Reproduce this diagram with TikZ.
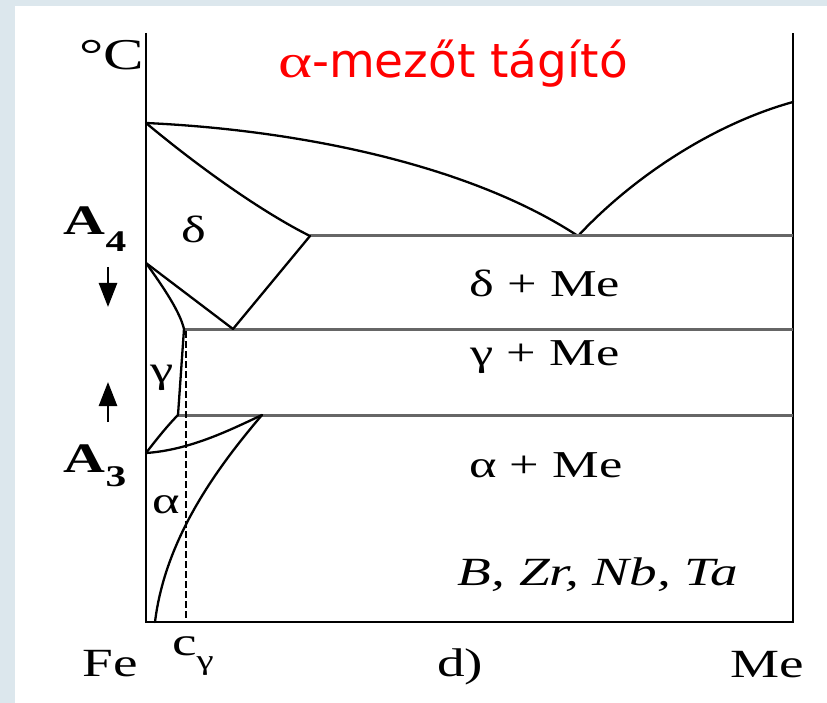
\documentclass[tikz,border=0pt]{standalone}
\usepackage{fontspec}
\setmainfont[FakeStretch=1.38]{Liberation Serif}
\newfontfamily\titlefont{DejaVu Sans}
\usetikzlibrary{positioning,arrows.meta}
\definecolor{slideblue}{HTML}{DCE7ED}
\definecolor{titlered}{HTML}{FF0000}
\tikzset{
  curve/.style={line width=2.3pt, line cap=round},
  iso/.style={line width=3pt, draw=black!60},
  axis/.style={line width=2.6pt},
  phase/.style={font=\fontsize{38}{40}\selectfont, inner sep=0pt, anchor=base},
  axlabel/.style={font=\fontsize{40}{42}\selectfont, inner sep=0pt, anchor=base},
  crit/.style={font=\fontsize{42}{44}\selectfont\bfseries, inner sep=0pt, anchor=base},
  shiftarrow/.style={-{Triangle[length=24pt,width=18pt]}, line width=2.6pt},
}

\begin{document}
\begin{tikzpicture}[x=1pt, y=-1pt]
\useasboundingbox (0,0) rectangle (827,703);
\fill[slideblue] (0,0) rectangle (827,703);
\fill[white] (15,6) rectangle (827,703);
% frame
\coordinate (tl) at (146,33);
\coordinate (bl) at (146,622);
\coordinate (br) at (793,622);
\coordinate (tr) at (793,33);
\draw[axis] (tl) -- (bl) -- (br) -- (tr);
% special points
\coordinate (tmelt) at (146,123);
\coordinate (meMelt) at (793,102);
\coordinate (eut) at (578,236);
\coordinate (per) at (310,236);
\coordinate (perR) at (793,236);
\coordinate (a4) at (146,263);
\coordinate (dg) at (233,329);
\coordinate (gTop) at (184,329);
\coordinate (gTopR) at (793,329);
\coordinate (gBot) at (178,415);
\coordinate (gBotR) at (793,415);
\coordinate (ag) at (262,415);
\coordinate (a3) at (146,453);
\coordinate (aSol) at (155,622);
\coordinate (cg) at (186,331);
\coordinate (cgB) at (186,622);
% liquidus and solidus
\draw[curve] (tmelt) .. controls (300,130) and (470,165) .. (eut);
\draw[curve] (eut) .. controls (630,180) and (710,125) .. (meMelt);
\draw[curve] (tmelt) .. controls (200,168) and (262,212) .. (per);
% three-phase lines
\draw[iso] (per) -- (perR);
\draw[iso] (gTop) -- (gTopR);
\draw[iso] (gBot) -- (gBotR);
% delta / gamma fields
\draw[curve] (per) -- (dg);
\draw[curve] (a4) -- (dg);
\draw[curve] (a4) .. controls (164,288) and (180,312) .. (gTop);
\draw[curve] (gTop) -- (gBot);
% alpha field
\draw[curve] (a3) .. controls (156,440) and (168,425) .. (gBot);
\draw[curve] (a3) .. controls (190,450) and (230,430) .. (ag);
\draw[curve] (ag) .. controls (215,470) and (165,540) .. (aSol);
\draw[line width=1.8pt, dash pattern=on 7pt off 3pt] (cg) -- (cgB);
% A4 / A3 shift arrows
\coordinate (dnS) at (108,267);
\coordinate (dnE) at (108,307);
\coordinate (upS) at (108,422);
\coordinate (upE) at (108,382);
\draw[shiftarrow] (dnS) -- (dnE);
\draw[shiftarrow] (upS) -- (upE);
% labels
\node[font=\fontsize{47}{50}\selectfont, text=titlered, inner sep=0pt, anchor=base] (title) at (453,78)
  {α{\titlefont -mezőt tágító}};
\node[axlabel, font=\fontsize{44}{46}\selectfont] (degC) at (112,70) {°C};
\node[crit] (lblA4) at (95,235) {A\raisebox{-17pt}{\fontsize{30}{30}\selectfont 4}};
\node[crit] (lblA3) at (95,472) {A\raisebox{-14pt}{\fontsize{30}{30}\selectfont 3}};
\node[phase] (delta) at (194,243) {δ};
\node[phase] (gamma) at (162,382) {γ};
\node[phase] (alpha) at (166,513) {α};
\node[phase] (deltaMe) at (545,297) {δ + Me};
\node[phase] (gammaMe) at (545,365) {γ + Me};
\node[phase] (alphaMe) at (546,477) {α + Me};
\node[axlabel, font=\fontsize{40}{42}\selectfont\itshape] (elements) at (598,585) {B, Zr, Nb, Ta};
\node[axlabel] (fe) at (110,676) {Fe};
\node[axlabel, anchor=base west] (cgam) at (172,655) {c\raisebox{-14pt}{\fontsize{28}{28}\selectfont γ}};
\node[axlabel] (panel) at (460,676) {d)};
\node[axlabel] (me) at (767,677) {Me};
\end{tikzpicture}
\end{document}
